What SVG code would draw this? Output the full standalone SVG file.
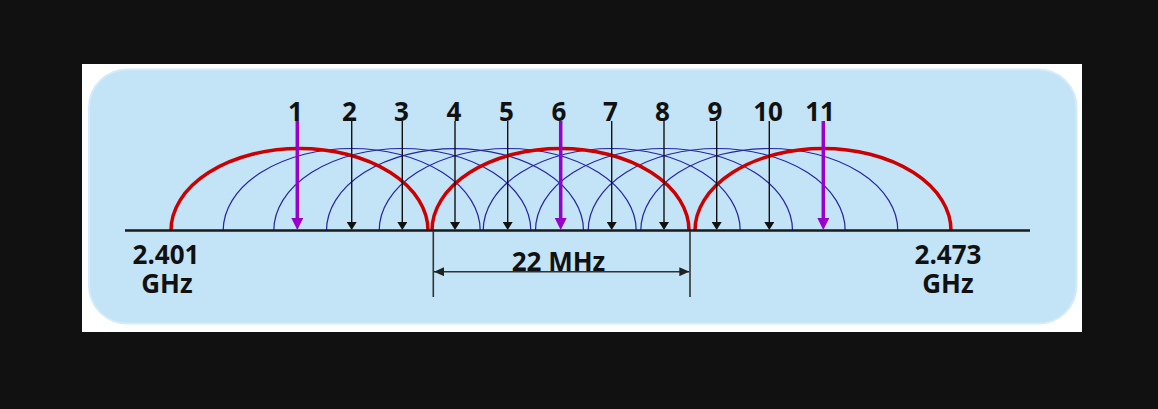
<svg xmlns="http://www.w3.org/2000/svg" width="1158" height="409" viewBox="0 0 1158 409">
  <style>
    .lbl { font-family: "Open Sans", "Liberation Sans", sans-serif; font-weight: 700; font-size: 26px; fill: #111; text-anchor: middle; }
    .red { fill: none; stroke: #cc0000; stroke-width: 3.5; }
    .blue { fill: none; stroke: #2424a6; stroke-width: 1.2; }
    .blk { stroke: #111; stroke-width: 1.4; marker-end: url(#hb); }
    .pur { stroke: #9a00cc; stroke-width: 3.5; marker-end: url(#hp); }
    .dim { stroke: #333; stroke-width: 1.6; fill: none; }
  </style>
  <defs>
    <marker id="hb" markerUnits="userSpaceOnUse" viewBox="0 0 8 10" markerWidth="8" markerHeight="10" refX="0" refY="5" orient="auto">
      <path d="M0,0 L8,5 L0,10 z" fill="#111"/>
    </marker>
    <marker id="hp" markerUnits="userSpaceOnUse" viewBox="0 0 12 12" markerWidth="12" markerHeight="12" refX="0" refY="6" orient="auto">
      <path d="M0,0 L12,6 L0,12 z" fill="#9a00cc"/>
    </marker>
    <marker id="hd" markerUnits="userSpaceOnUse" viewBox="0 0 10 9" markerWidth="10" markerHeight="9" refX="10" refY="4.5" orient="auto-start-reverse">
      <path d="M0,0 L10,4.5 L0,9 z" fill="#222"/>
    </marker>
  </defs>
  <rect x="0" y="0" width="1158" height="409" fill="#111111"/>
  <rect x="82" y="64" width="1000" height="268" fill="#ffffff"/>
  <rect x="89" y="69.5" width="987.5" height="254" rx="38" ry="38" fill="#c3e3f6" stroke="#d2ecfb" stroke-width="2"/>

  <g id="blue-arcs">
    <path class="blue" d="M223.2,230.5 A128.5,82 0 0 1 480.2,230.5"/>
    <path class="blue" d="M273.8,230.5 A128.5,82 0 0 1 530.8,230.5"/>
    <path class="blue" d="M326.5,230.5 A128.5,82 0 0 1 583.5,230.5"/>
    <path class="blue" d="M379.2,230.5 A128.5,82 0 0 1 636.2,230.5"/>
    <path class="blue" d="M483.2,230.5 A128.5,82 0 0 1 740.2,230.5"/>
    <path class="blue" d="M535.5,230.5 A128.5,82 0 0 1 792.5,230.5"/>
    <path class="blue" d="M588.2,230.5 A128.5,82 0 0 1 845.2,230.5"/>
    <path class="blue" d="M640.8,230.5 A128.5,82 0 0 1 897.8,230.5"/>
  </g>
  <g id="red-arcs">
    <path class="red" d="M171,230.5 A128.5,82 0 0 1 428,230.5"/>
    <path class="red" d="M432,230.5 A128.5,82 0 0 1 689,230.5"/>
    <path class="red" d="M695,230.5 A128,82 0 0 1 951,230.5"/>
  </g>
  <line id="axis" x1="125" y1="230.5" x2="1030" y2="230.5" stroke="#1a1a1a" stroke-width="2.6"/>

  <g id="connectors">
    <line class="pur" x1="297.3" y1="121" x2="297.3" y2="218"/>
    <line class="blk" x1="351.7" y1="121" x2="351.7" y2="222"/>
    <line class="blk" x1="402.3" y1="121" x2="402.3" y2="222"/>
    <line class="blk" x1="455" y1="121" x2="455" y2="222"/>
    <line class="blk" x1="507.7" y1="121" x2="507.7" y2="222"/>
    <line class="pur" x1="560.7" y1="121" x2="560.7" y2="218"/>
    <line class="blk" x1="611.7" y1="121" x2="611.7" y2="222"/>
    <line class="blk" x1="664" y1="121" x2="664" y2="222"/>
    <line class="blk" x1="716.7" y1="121" x2="716.7" y2="222"/>
    <line class="blk" x1="769.3" y1="121" x2="769.3" y2="222"/>
    <line class="pur" x1="823.3" y1="121" x2="823.3" y2="218"/>
  </g>

  <g id="channel-labels">
    <text class="lbl" x="295.5" y="120.5">1</text>
    <text class="lbl" x="349.5" y="120.5">2</text>
    <text class="lbl" x="401.5" y="120.5">3</text>
    <text class="lbl" x="454" y="120.5">4</text>
    <text class="lbl" x="506.5" y="120.5">5</text>
    <text class="lbl" x="559" y="120.5">6</text>
    <text class="lbl" x="610.5" y="120.5">7</text>
    <text class="lbl" x="662.5" y="120.5">8</text>
    <text class="lbl" x="715" y="120.5">9</text>
    <text class="lbl" x="768" y="120.5">10</text>
    <text class="lbl" x="820" y="120.5">11</text>
  </g>

  <g id="bandwidth">
    <line class="dim" x1="433.3" y1="231" x2="433.3" y2="297"/>
    <line class="dim" x1="690" y1="231" x2="690" y2="297"/>
    <line class="dim" x1="434" y1="271.7" x2="689.3" y2="271.7" marker-start="url(#hd)" marker-end="url(#hd)"/>
    <text class="lbl" x="558.5" y="270.5">22 MHz</text>
  </g>

  <g id="freq-start">
    <text class="lbl" x="166" y="264">2.401</text>
    <text class="lbl" x="167" y="293">GHz</text>
  </g>
  <g id="freq-end">
    <text class="lbl" x="948" y="264">2.473</text>
    <text class="lbl" x="948" y="293">GHz</text>
  </g>
</svg>
